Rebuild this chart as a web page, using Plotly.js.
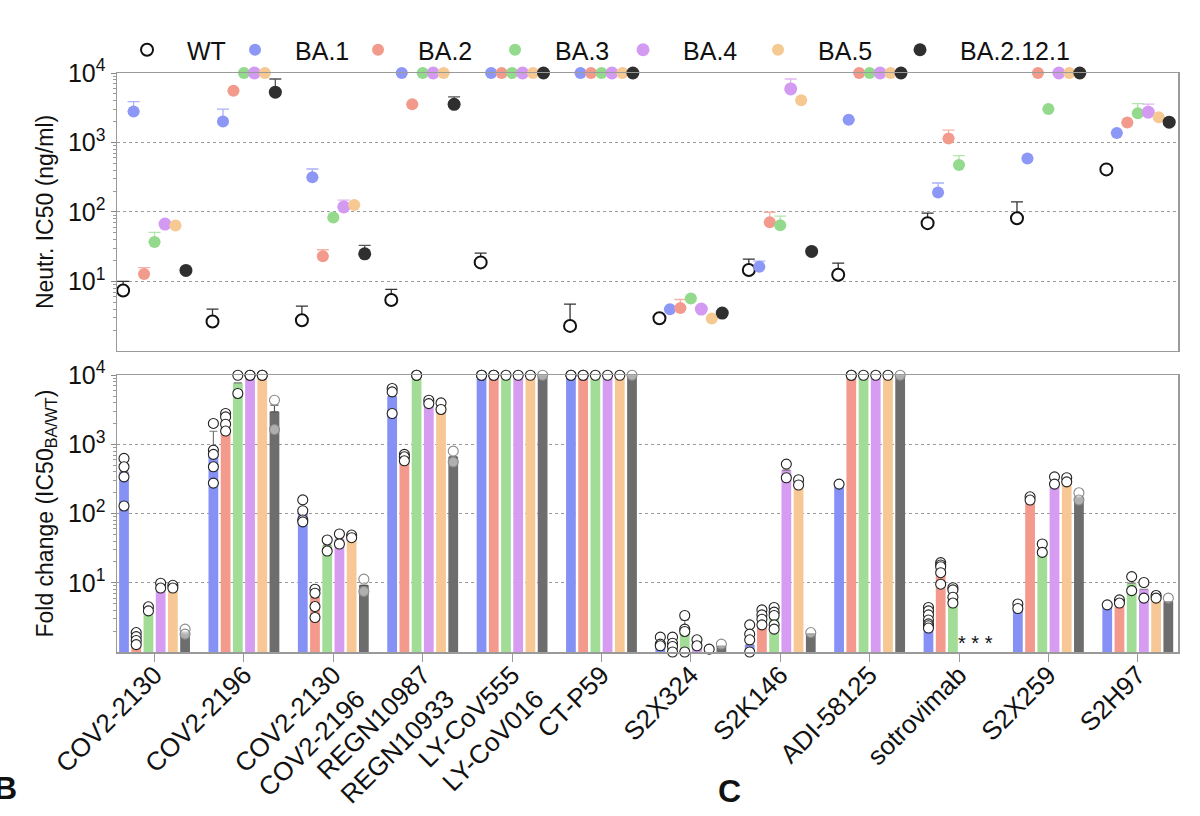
<!DOCTYPE html>
<html>
<head>
<meta charset="utf-8">
<script src="https://cdn.plot.ly/plotly-3.0.1.min.js"></script>
<style>html,body{margin:0;padding:0;background:#fff;}#chart{width:1200px;height:816px;}</style>
</head>
<body>
<div id="chart"></div>
<script>
// ---------- DATA ----------
const categories = ['COV2-2130','COV2-2196','COV2-2130 + COV2-2196','REGN10987 + REGN10933','LY-CoV555 + LY-CoV016','CT-P59','S2X324','S2K146','ADI-58125','sotrovimab','S2X259','S2H97'];
const tickLabels = ['COV2-2130','COV2-2196','COV2-2130<br>COV2-2196','REGN10987<br>REGN10933','LY-CoV555<br>LY-CoV016','CT-P59','S2X324','S2K146','ADI-58125','sotrovimab','S2X259','S2H97'];
const seriesNames = ['WT','BA.1','BA.2','BA.3','BA.4','BA.5','BA.2.12.1'];

// Neutralization IC50 (ng/ml), top panel
const ic50_WT     = [7.4, 2.65, 2.77, 5.4, 18.8, 2.29, 2.95, 14.6, 12.5, 69, 81, 410];
const ic50_BA1    = [2790, 2000, 315, 10000, 10000, 10000, 3.98, 16.3, 2120, 190, 589, 1365];
const ic50_BA2    = [12.8, 5570, 23, 3550, 10000, 10000, 4.15, 71, 10000, 1140, 10000, 1935];
const ic50_BA3    = [37, 10000, 83, 10000, 10000, 10000, 5.7, 64.6, 10000, 474, 3040, 2630];
const ic50_BA4    = [67, 10000, 118, 10000, 10000, 10000, 4.0, 5900, 10000, null, 10000, 2730];
const ic50_BA5    = [64, 10000, 126, 10000, 10000, 10000, 2.93, 4060, 10000, null, 10000, 2310];
const ic50_BA2121 = [14.4, 5300, 25, 3540, 10000, 10000, 3.5, 27, 10000, null, 10000, 1960];
// upper ends of the error bars (null = none drawn)
const ic50Upper_WT     = [10, 4.0, 4.4, 7.7, 25.5, 4.7, null, 20.9, 18.4, 96, 140, null];
const ic50Upper_BA1    = [3880, 3030, 415, null, null, null, null, 19.6, null, 261, null, null];
const ic50Upper_BA2    = [15.8, null, 28.6, null, null, null, 5.5, 99, null, 1510, null, null];
const ic50Upper_BA3    = [51, null, null, null, null, null, null, 87, null, 646, null, 3630];
const ic50Upper_BA4    = [null, null, 148, null, null, null, null, 8200, null, null, null, 3560];
const ic50Upper_BA5    = [null, null, null, null, null, null, null, null, null, null, null, null];
const ic50Upper_BA2121 = [null, 8200, 33, 4530, null, null, null, null, null, null, null, null];

// Fold change IC50 BA / WT, bottom panel (bar heights)
const fc_BA1    = [403, 781, 109, 4980, 10000, 10000, 1.34, 1.27, 267, 2.5, 4.3, 4.8];
const fc_BA2    = [1.34, 2190, 6.3, 628, 10000, 10000, 1.2, 3.2, 10000, 16, 161, 5.1];
const fc_BA3    = [3.84, 7740, 35, 10000, 10000, 10000, 2.2, 3.2, 10000, 6.7, 31.6, 9.87];
const fc_BA4    = [8.65, 10000, 42.6, 3820, 10000, 10000, 1.2, 426, 10000, null, 288, 8.07];
const fc_BA5    = [8.6, 10000, 48, 3420, 10000, 10000, 1.05, 274, 10000, null, 288, 6.2];
const fc_BA2121 = [1.94, 2960, 9.2, 663, 10000, 10000, 1.22, 1.83, 10000, null, 175, 5.36];
const fcUpper_BA1    = [null, 1550, null, null, null, null, null, null, null, null, null, null];
const fcUpper_BA3    = [null, null, null, null, null, null, 2.9, null, null, null, null, null];
const fcUpper_BA2121 = [null, 3690, null, null, null, null, null, null, null, null, null, null];

// individual replicate fold changes
const rep_BA1 = [[628,475,340,129],[2010,828,718,475,276],[158,110,81,76],[6430,5740,2800],[10000,10000],[10000,10000],[1.64,1.3,1.23],[2.47,1.81,1.5,1.0],[267],[4.4,3.93,3.44,2.9,2.55,2.39,2.22],[4.95,4.25],[4.8]];
const rep_BA2 = [[1.91,1.67,1.47,1.28],[2800,2500,1960,1560],[8.07,7.07,4.54,3.15],[718,663,580],[10000,10000],[10000,10000],[1.64,1.34,1.2,1.0],[4.06,3.44,2.98,2.47],[10000,10000],[19.6,18.1,17.1,14,9.55],[175,157],[5.66,5.1]];
const rep_BA3 = [[4.5,3.93],[10000,5450],[41.6,28.8],[10000,10000],[10000],[10000],[3.37,2.14,1.98,1.0],[4.4,3.77,3.37,2.47,2.14],[10000],[8.5,7.9,6.2,5.1],[36.4,27.5],[12.3,7.7]];
const rep_BA4 = [[9.87,8.4],[10000,10000],[50.8,36.4],[4360,3890],[10000],[10000],[1.5,1.23],[520,330],[10000],[],[340,267],[10.1,6.0]];
const rep_BA5 = [[9.2,8.4],[10000,10000],[49,44.9],[3980,3200],[10000],[10000],[1.1],[309,259],[10000],[],[330,288],[6.55,6.0]];
const rep_BA2121 = [[2.14,1.81],[4360,1640],[11.3,7.5],[800,556],[10000],[10000],[1.3],[1.91],[10000],[],[200,157],[6.0]];

const notTestedLabel = '* * *';           // sotrovimab vs BA.4, BA.5, BA.2.12.1
const notTestedCategory = 'sotrovimab';

// ---------- STYLE ----------
const FONT = 'Liberation Sans, Arial, Helvetica, sans-serif';
const dotColors = ['#ffffff','#8c97f6','#f29a8c','#94da8c','#d39af2','#f6c892','#2f2f2f'];
const dotSizes  = [12, 12, 12, 12, 13, 12, 13];
const legendWidths = [23, 38, 52, 43, 50, 57, 140];
const errColors = ['#333333','#aab2f8','#f5b3a8','#b2e6aa','#dfb6f5','#f8d7b2','#555555'];
const barColors = ['#8691f5','#f39a8d','#a2dd98','#d59cf1','#f7c895','#6d6d6d'];

const ic50 = [ic50_WT, ic50_BA1, ic50_BA2, ic50_BA3, ic50_BA4, ic50_BA5, ic50_BA2121];
const ic50Upper = [ic50Upper_WT, ic50Upper_BA1, ic50Upper_BA2, ic50Upper_BA3, ic50Upper_BA4, ic50Upper_BA5, ic50Upper_BA2121];
const fc = [fc_BA1, fc_BA2, fc_BA3, fc_BA4, fc_BA5, fc_BA2121];
const fcUpper = [fcUpper_BA1, null, fcUpper_BA3, null, null, fcUpper_BA2121];
const reps = [rep_BA1, rep_BA2, rep_BA3, rep_BA4, rep_BA5, rep_BA2121];

function deltas(vals, upper) {
  return vals.map((v, i) => (upper && upper[i] != null && v != null) ? upper[i] - v : 0);
}

const traces = [];
// top panel scatter
ic50.forEach((vals, s) => {
  const isWT = s === 0;
  traces.push({
    type: 'scatter', mode: 'markers', name: seriesNames[s],
    x: categories, y: vals, xaxis: 'x2', yaxis: 'y2',
    cliponaxis: false, legendwidth: legendWidths[s],
    marker: isWT
      ? {symbol: 'circle', size: dotSizes[s], color: '#ffffff', line: {color: '#111111', width: 2}}
      : {symbol: 'circle', size: dotSizes[s], color: dotColors[s], line: {width: 0}},
    error_y: {type: 'data', symmetric: false, array: deltas(vals, ic50Upper[s]), arrayminus: vals.map(() => 0),
              color: errColors[s], thickness: 1.3, width: 6},
    showlegend: true
  });
});
// bottom panel bars
fc.forEach((vals, s) => {
  traces.push({
    type: 'bar', name: seriesNames[s + 1], x: categories, y: vals,
    xaxis: 'x', yaxis: 'y', marker: {color: barColors[s], line: {width: 0}},
    error_y: {type: 'data', symmetric: false, array: deltas(vals, fcUpper[s]), arrayminus: vals.map(() => 0),
              color: s === 5 ? '#555' : '#777', thickness: 1.2, width: 4},
    showlegend: false, cliponaxis: false
  });
});
// bottom panel replicate points
reps.forEach((r, s) => {
  const xs = [], ys = [];
  r.forEach((arr, i) => arr.forEach(v => { xs.push(categories[i]); ys.push(v); }));
  const gray = s === 5;
  traces.push({
    type: 'scatter', mode: 'markers', name: seriesNames[s + 1] + ' replicates',
    x: xs, y: ys, xaxis: 'x', yaxis: 'y', cliponaxis: false,
    marker: {symbol: 'circle', size: 10, color: gray ? 'rgba(255,255,255,0.45)' : '#ffffff',
             line: {color: gray ? '#8a8a8a' : '#222222', width: 1.1}},
    showlegend: false
  });
});

const minorVals = [];
[1, 10, 100, 1000].forEach(d => { for (let k = 2; k <= 9; k++) minorVals.push(d * k); });

const yCommon = {
  type: 'log', range: [0, 4],
  tickmode: 'array', tickvals: [10, 100, 1000, 10000],
  ticktext: ['10<sup>1</sup>', '10<sup>2</sup>', '10<sup>3</sup>', '10<sup>4</sup>'],
  tickfont: {family: FONT, size: 25, color: '#111'},
  ticks: 'outside', ticklen: 5, tickcolor: '#888', tickwidth: 1,
  minor: {tickmode: 'array', tickvals: minorVals, ticks: 'outside', ticklen: 3, tickcolor: '#999', showgrid: false},
  showgrid: true, gridcolor: '#9a9a9a', griddash: 'dot', gridwidth: 1,
  showline: true, linecolor: '#9a9a9a', linewidth: 1.5, mirror: true,
  zeroline: false
};

const layout = {
  width: 1200, height: 816,
  paper_bgcolor: '#ffffff', plot_bgcolor: '#ffffff',
  font: {family: FONT, color: '#111'},
  margin: {l: 117, r: 22, t: 73, b: 164},
  barmode: 'group', bargap: 0.18, bargroupgap: 0.2,
  scattermode: 'group', scattergap: 0.18,
  showlegend: true,
  legend: {orientation: 'h', x: -0.0094, xanchor: 'left', y: 1.0, yanchor: 'bottom', itemwidth: 70,
           font: {family: FONT, size: 25, color: '#111'}, bgcolor: 'rgba(0,0,0,0)'},
  xaxis: {
    domain: [0, 1], anchor: 'y', type: 'category', categoryorder: 'array', categoryarray: categories,
    range: [-0.42, 11.45],
    tickmode: 'array', tickvals: categories, ticktext: tickLabels, tickangle: -45,
    tickfont: {family: FONT, size: 26, color: '#111'},
    ticks: 'outside', ticklen: 8, tickcolor: '#999', tickwidth: 1, ticklabelstandoff: -12,
    showline: true, linecolor: '#9a9a9a', linewidth: 1.5, mirror: true, showgrid: false,
    automargin: false
  },
  xaxis2: {
    domain: [0, 1], anchor: 'y2', type: 'category', categoryorder: 'array', categoryarray: categories,
    matches: 'x', showticklabels: false, ticks: '',
    showline: true, linecolor: '#9a9a9a', linewidth: 1.5, mirror: true, showgrid: false
  },
  yaxis: Object.assign({}, yCommon, {
    domain: [0, 0.478], anchor: 'x',
    title: {text: 'Fold change (IC50<sub>BA/WT</sub>)', font: {family: FONT, size: 23, color: '#111'}, standoff: 8}
  }),
  yaxis2: Object.assign({}, yCommon, {
    domain: [0.52, 1], anchor: 'x2',
    title: {text: 'Neutr. IC50 (ng/ml)', font: {family: FONT, size: 23, color: '#111'}, standoff: 8}
  }),
  annotations: [
    {text: notTestedLabel, xref: 'x', yref: 'y', x: notTestedCategory, y: Math.log10(1.35), xshift: 16,
     showarrow: false, font: {family: FONT, size: 20, color: '#111'}},
    {text: '<b>B</b>', xref: 'paper', yref: 'paper', x: -0.118, y: -0.235, xanchor: 'left', yanchor: 'middle',
     showarrow: false, font: {family: FONT, size: 32, color: '#111'}},
    {text: '<b>C</b>', xref: 'paper', yref: 'paper', x: 0.565, y: -0.24, xanchor: 'left', yanchor: 'middle',
     showarrow: false, font: {family: FONT, size: 32, color: '#111'}}
  ]
};

Plotly.newPlot('chart', traces, layout, {displayModeBar: false, staticPlot: true});
</script>
</body>
</html>
